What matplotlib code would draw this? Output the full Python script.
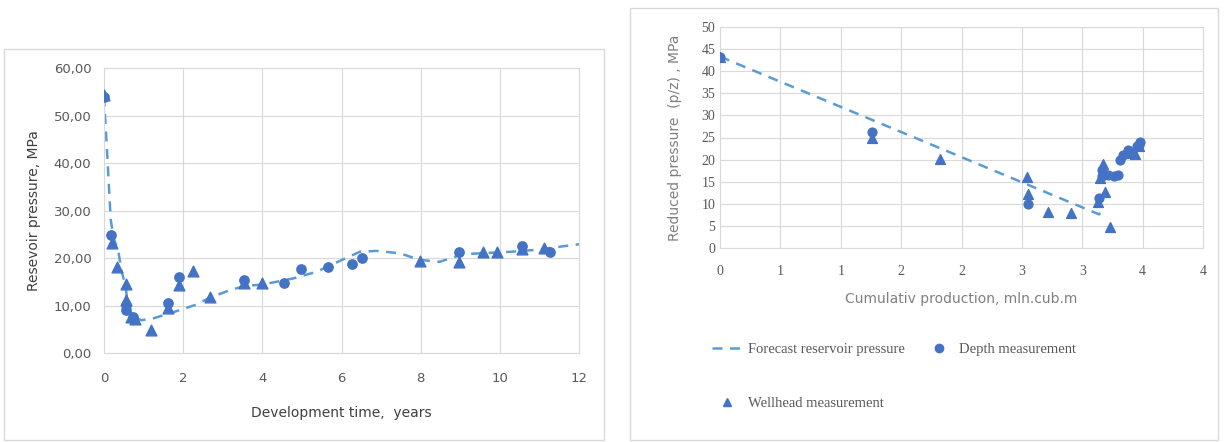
import matplotlib
matplotlib.use("Agg")
import matplotlib.pyplot as plt
from matplotlib.patches import Rectangle
from matplotlib.lines import Line2D

# ---- left chart: pressure vs development time ----
time_forecast = [0, 0.08, 0.17, 0.25, 0.36, 0.45, 0.55, 0.61, 0.75, 0.95, 1.25, 1.79, 2.3, 2.69,
                 3.14, 3.54, 4.0, 4.78, 5.37, 5.96, 6.46, 6.89, 7.47, 7.98, 8.48, 9.07, 10.25, 10.9, 12.0]
p_forecast = [54, 42, 28, 24, 21.5, 17, 14, 8.8, 7.5, 6.9, 7.3, 8.7, 10.1, 11.7,
              13.1, 14.1, 14.4, 15.7, 17.1, 19.4, 21.3, 21.5, 21.0, 19.6, 19.2, 20.8, 21.3, 21.7, 22.9]

time_depth = [0, 0.17, 0.55, 0.55, 0.72, 1.62, 1.90, 3.54, 4.55, 4.97, 5.65, 6.27, 6.52, 8.96, 10.57, 11.26]
p_depth = [54.0, 24.8, 10.1, 9.0, 7.6, 10.5, 15.9, 15.4, 14.8, 17.7, 18.2, 18.7, 20.1, 21.3, 22.5, 21.3]

time_well = [0, 0.19, 0.32, 0.55, 0.55, 0.68, 0.78, 1.19, 1.62, 1.90, 2.26, 2.69, 3.54, 4.0,
             7.98, 8.96, 9.58, 9.92, 10.57, 11.11]
p_well = [54.3, 23.1, 18.2, 14.5, 11.2, 7.6, 7.2, 4.8, 9.5, 14.3, 17.3, 11.7, 14.7, 14.8,
          19.4, 19.2, 21.2, 21.2, 22.0, 22.2]

# ---- right chart: reduced pressure vs cumulative production ----
q_forecast = [0, 3.14, 3.17]
pz_forecast = [43.3, 7.6, 9.0]

q_depth = [0, 1.26, 2.55, 3.16, 3.16, 3.14, 3.21, 3.26, 3.30, 3.31, 3.34, 3.38, 3.41, 3.45, 3.48, 3.47]
pz_depth = [43.3, 26.3, 10.0, 17.6, 16.2, 11.2, 16.5, 16.4, 16.6, 19.9, 21.0, 22.2, 21.5, 23.1, 24.0, 23.4]

q_well = [0, 1.26, 1.82, 2.54, 2.55, 2.72, 2.91, 3.17, 3.15, 3.19, 3.13, 3.23, 3.38, 3.44, 3.47]
pz_well = [43.3, 25.0, 20.2, 16.1, 12.2, 8.2, 8.0, 19.0, 15.8, 12.7, 10.5, 4.8, 21.5, 21.3, 23.0]

q_ticks = [0, 0.5, 1, 1.5, 2, 2.5, 3, 3.5, 4]
q_ticklabels = ["0", "1", "1", "2", "2", "3", "3", "4", "4"]

marker_col = "#4472C4"
line_col = "#5B9BD5"
grid_col = "#D9D9D9"
text_col = "#595959"

fig = plt.figure(figsize=(12.24, 4.42), dpi=100)

# chart frames
fig.patches.append(Rectangle((4 / 1224, 0.005), 600 / 1224, 1 - 49 / 442 - 0.005,
                             transform=fig.transFigure, fill=False, ec="#D9D9D9", lw=1))
fig.patches.append(Rectangle((630 / 1224, 0.005), 588 / 1224, 1 - 8 / 442 - 0.005,
                             transform=fig.transFigure, fill=False, ec="#D9D9D9", lw=1))


def style(ax):
    ax.grid(True, color=grid_col, lw=0.8)
    ax.set_axisbelow(True)
    for s in ax.spines.values():
        s.set_color(grid_col)
    ax.tick_params(length=0, colors=text_col, labelsize=9.5)


ax1 = fig.add_axes([104 / 1224, 1 - 353 / 442, 475 / 1224, 285 / 442])
style(ax1)
ax1.plot(time_forecast, p_forecast, ls=(0, (4, 3)), color=line_col, lw=1.8)
ax1.scatter(time_depth, p_depth, s=45, marker="o", color=marker_col, zorder=3)
ax1.scatter(time_well, p_well, s=60, marker="^", color=marker_col, zorder=3)
ax1.set_xlim(0, 12)
ax1.set_ylim(0, 60)
ax1.set_xticks(range(0, 13, 2))
ax1.set_yticks(range(0, 61, 10))
ax1.set_yticklabels([f"{v},00" for v in range(0, 61, 10)])
ax1.tick_params(axis="x", pad=14)
ax1.tick_params(axis="y", pad=9)
ax1.set_xlabel("Development time,  years", fontsize=10, color="#404040", labelpad=15)
ax1.set_ylabel("Resevoir pressure, MPa", fontsize=10, color="#404040", labelpad=9)

ax2 = fig.add_axes([720 / 1224, 1 - 248 / 442, 483 / 1224, 221 / 442])
style(ax2)
ax2.plot(q_forecast, pz_forecast, ls=(0, (4, 3)), color=line_col, lw=1.8)
ax2.scatter(q_depth, pz_depth, s=40, marker="o", color=marker_col, zorder=3)
ax2.scatter(q_well, pz_well, s=50, marker="^", color=marker_col, zorder=3)
ax2.set_xlim(0, 4)
ax2.set_ylim(0, 50)
ax2.set_xticks(q_ticks)
ax2.set_xticklabels(q_ticklabels, fontfamily="Liberation Serif", fontsize=10)
ax2.set_yticks(range(0, 51, 5))
ax2.set_yticklabels([str(v) for v in range(0, 51, 5)], fontfamily="Liberation Serif", fontsize=10)
ax2.tick_params(axis="x", pad=12)
ax2.set_xlabel("Cumulativ production, mln.cub.m", fontsize=10, color="#808080", labelpad=10)
ax2.set_ylabel("Reduced pressure  (p/z) , MPa", fontsize=10, color="#808080", labelpad=14)

h_fore = Line2D([], [], ls=(0, (4, 3)), color=line_col, lw=1.8)
h_depth = Line2D([], [], ls="", marker="o", color=marker_col, markersize=6)
h_well = Line2D([], [], ls="", marker="^", color=marker_col, markersize=6)
fig.legend([h_fore, h_well, h_depth],
           ["Forecast reservoir pressure", "Wellhead measurement", "Depth measurement"],
           ncol=2, loc="upper left", bbox_to_anchor=(699 / 1224, 1 - 330 / 442),
           frameon=False, prop={"family": "Liberation Serif", "size": 10.5},
           labelcolor="#595959", handlelength=2.05, handletextpad=0.4,
           columnspacing=1.3, labelspacing=2.8)

fig.savefig("out.png", dpi=100)
